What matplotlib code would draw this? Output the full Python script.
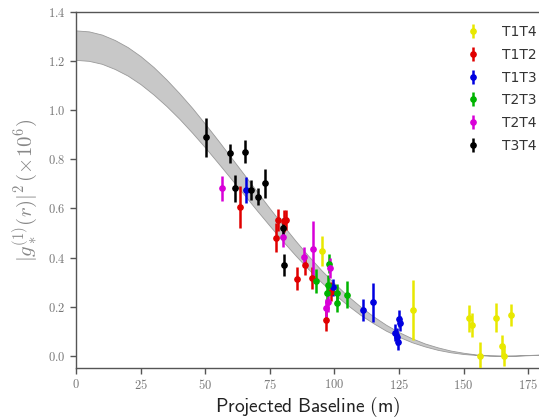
import matplotlib
matplotlib.use("Agg")
import matplotlib.pyplot as plt
from matplotlib.ticker import FuncFormatter, FixedLocator

plt.rcParams["mathtext.fontset"] = "cm"

# Model band, baseline in m
band_x = list(range(0, 181, 5))
band_upper = [1.325, 1.321, 1.308, 1.286, 1.257, 1.220, 1.176, 1.125, 1.069, 1.009,
              0.944, 0.877, 0.808, 0.739, 0.669, 0.600, 0.533, 0.468, 0.406, 0.348,
              0.295, 0.245, 0.201, 0.161, 0.126, 0.096, 0.071, 0.050, 0.034, 0.021,
              0.012, 0.005, 0.002, 0.000, 0.000, 0.002, 0.004]
band_lower = [1.205, 1.201, 1.189, 1.168, 1.141, 1.106, 1.064, 1.017, 0.965, 0.908,
              0.848, 0.785, 0.721, 0.657, 0.592, 0.529, 0.467, 0.408, 0.352, 0.299,
              0.251, 0.207, 0.167, 0.133, 0.102, 0.077, 0.055, 0.038, 0.024, 0.014,
              0.007, 0.003, 0.000, 0.000, 0.001, 0.003, 0.005]

# Measurements per telescope pair
t1t4_x = [95.1, 130.4, 152.2, 153.1, 156.4, 162.7, 164.7, 165.8, 168.5]
t1t4_y = [0.427, 0.186, 0.152, 0.125, 0.000, 0.155, 0.041, 0.000, 0.166]
t1t4_e = [0.060, 0.122, 0.054, 0.050, 0.054, 0.058, 0.044, 0.040, 0.043]

t1t2_x = [63.3, 77.4, 78.2, 80.4, 81.2, 85.5, 88.8, 91.4, 96.7, 98.6]
t1t2_y = [0.607, 0.481, 0.553, 0.549, 0.553, 0.313, 0.370, 0.316, 0.145, 0.261]
t1t2_e = [0.085, 0.058, 0.045, 0.045, 0.040, 0.047, 0.040, 0.045, 0.045, 0.040]

t1t3_x = [65.9, 99.6, 111.0, 115.1, 123.3, 124.4, 124.6, 125.0, 125.5]
t1t3_y = [0.675, 0.278, 0.186, 0.218, 0.094, 0.077, 0.057, 0.150, 0.132]
t1t3_e = [0.052, 0.035, 0.045, 0.080, 0.035, 0.035, 0.035, 0.035, 0.030]

t2t3_x = [92.9, 97.0, 97.7, 98.1, 100.9, 100.9, 104.9]
t2t3_y = [0.305, 0.256, 0.288, 0.375, 0.254, 0.213, 0.248]
t2t3_e = [0.048, 0.040, 0.040, 0.040, 0.040, 0.035, 0.055]

t2t4_x = [56.7, 80.2, 88.1, 91.8, 96.9, 97.6, 98.4]
t2t4_y = [0.682, 0.482, 0.402, 0.435, 0.193, 0.220, 0.356]
t2t4_e = [0.050, 0.040, 0.040, 0.115, 0.040, 0.040, 0.040]

t3t4_x = [50.4, 59.6, 61.4, 65.3, 67.6, 70.4, 73.3, 80.2, 80.6]
t3t4_y = [0.890, 0.824, 0.682, 0.831, 0.675, 0.648, 0.702, 0.522, 0.369]
t3t4_e = [0.080, 0.040, 0.055, 0.048, 0.040, 0.035, 0.060, 0.040, 0.046]

series = [
    ("T1T4", t1t4_x, t1t4_y, t1t4_e, "#e8e800"),
    ("T1T2", t1t2_x, t1t2_y, t1t2_e, "#e00000"),
    ("T1T3", t1t3_x, t1t3_y, t1t3_e, "#0000e0"),
    ("T2T3", t2t3_x, t2t3_y, t2t3_e, "#00b400"),
    ("T2T4", t2t4_x, t2t4_y, t2t4_e, "#d800d8"),
    ("T3T4", t3t4_x, t3t4_y, t3t4_e, "#000000"),
]

x_ticks = [0, 25, 50, 75, 100, 125, 150, 175]
y_ticks = [0.0, 0.2, 0.4, 0.6, 0.8, 1.0, 1.2, 1.4]

fig = plt.figure(figsize=(5.39, 4.19), dpi=100)
ax = fig.add_axes([76 / 539, 51 / 419, 1 - 76 / 539, 356 / 419])

ax.fill_between(band_x, band_lower, band_upper, facecolor="#c8c8c8",
                edgecolor="#9a9a9a", linewidth=0.6, zorder=1)

handles = []
for name, xs, ys, es, col in series:
    h = ax.errorbar(xs, ys, yerr=es, fmt="o", color=col, ecolor=col,
                    markersize=3.8, elinewidth=1.8, capsize=0, zorder=3,
                    label=name)
    handles.append(h)

ax.set_xlim(0, 179.2)
ax.set_ylim(-0.05, 1.4)
ax.xaxis.set_major_locator(FixedLocator(x_ticks))
ax.yaxis.set_major_locator(FixedLocator(y_ticks))
ax.xaxis.set_major_formatter(FuncFormatter(lambda v, p: f"${v:.0f}$"))
ax.yaxis.set_major_formatter(FuncFormatter(lambda v, p: f"${v:.1f}$"))

for s in ["left", "bottom", "top"]:
    ax.spines[s].set_color("#555555")
    ax.spines[s].set_linewidth(1.0)
ax.spines["right"].set_visible(False)
ax.tick_params(direction="out", length=4, width=1, colors="#555555",
               labelcolor="#777777", labelsize=9)

ax.set_ylabel(r"$|g_*^{(1)}(r)|^2\,(\times 10^6)$", fontsize=15,
              color="#888888", labelpad=6)
ax.set_xlabel(r"$\mathsf{Projected\ Baseline\ (m)}$", fontsize=14,
              color="#222222", labelpad=2)

leg = ax.legend(handles=handles, loc="upper left",
                bbox_to_anchor=(466 / 539, 1 - 25 / 419),
                bbox_transform=fig.transFigure, frameon=False,
                fontsize=10, labelspacing=0.63, handlelength=1.0,
                handletextpad=1.6, borderaxespad=0, borderpad=0)
for t in leg.get_texts():
    t.set_color("#333333")

fig.savefig("out.png", dpi=100)
